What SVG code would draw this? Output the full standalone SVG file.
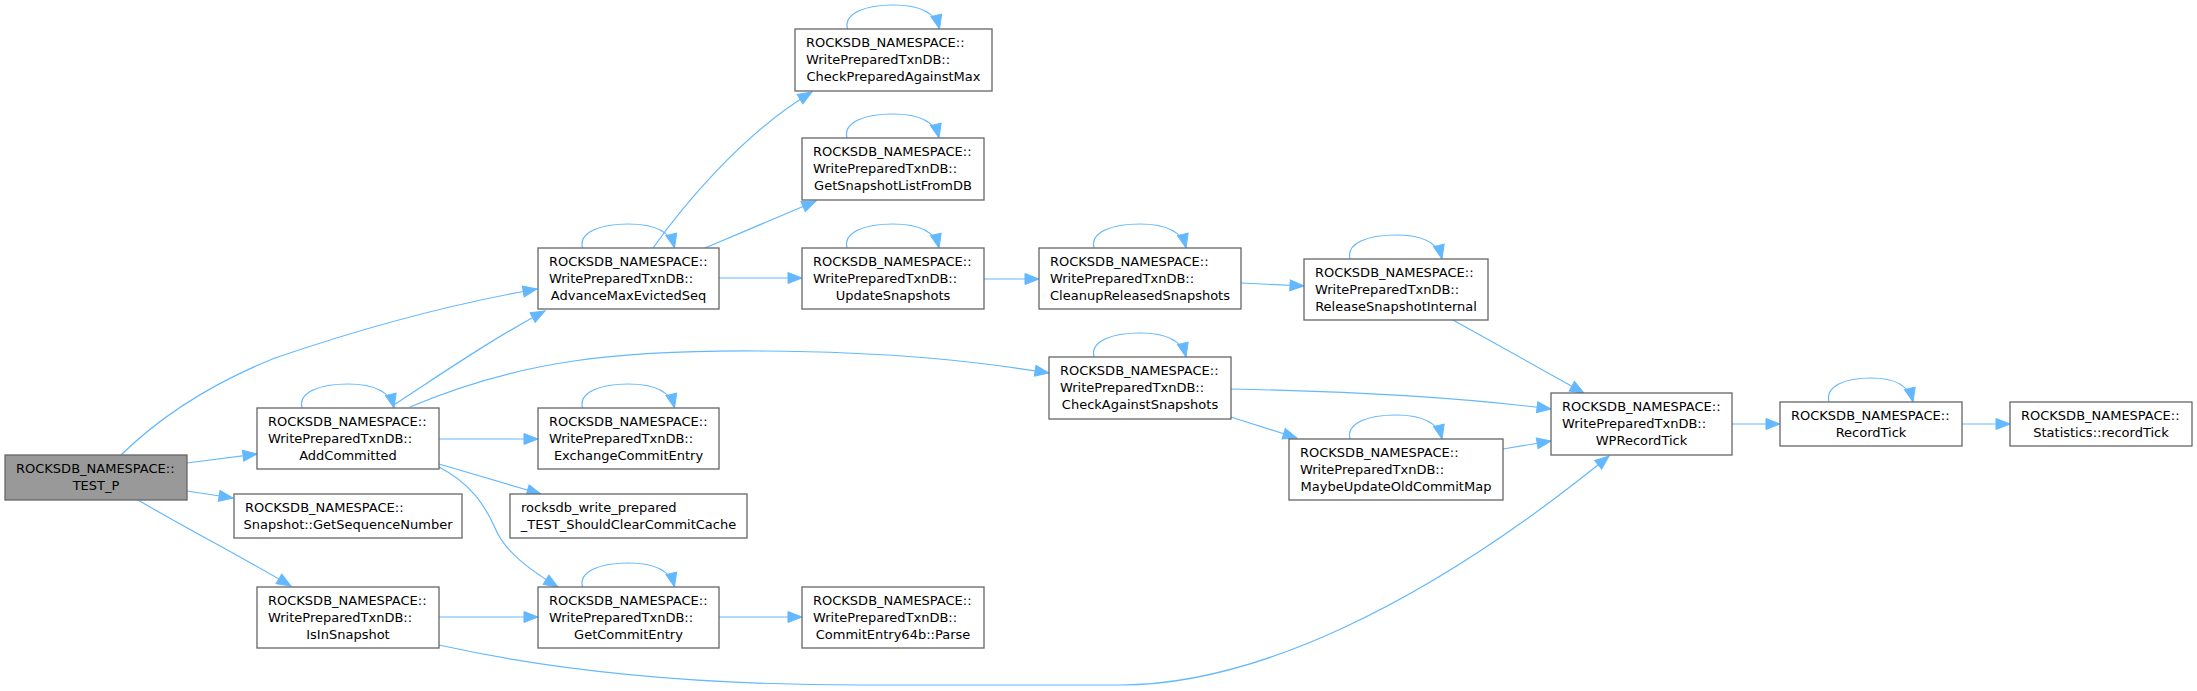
<svg xmlns="http://www.w3.org/2000/svg" width="2197" height="691" viewBox="0 0 2197 691">
<style>
.n rect{fill:#ffffff;stroke:#666666;stroke-width:1.3}
.n.root rect{fill:#999999}
.n text{font-family:"DejaVu Sans","Liberation Sans",sans-serif;font-size:13px;fill:#000000}
.n text.c{text-anchor:middle}
.e path{fill:none;stroke:#63b8ff;stroke-width:1.2;marker-end:url(#ah)}
</style>
<defs>
<marker id="ah" markerUnits="userSpaceOnUse" markerWidth="16" markerHeight="13" refX="14" refY="5.5" orient="auto" overflow="visible">
<path d="M0,0 L14,5.5 L0,11 z" fill="#63b8ff" stroke="#63b8ff" stroke-width="1"/>
</marker>
</defs>
<rect width="2197" height="691" fill="#ffffff"/>
<g id="connectors" class="e">
<path d="M121,455 C165,412 215,382 275,358 C345,334 440,306 537,289"/>
<path d="M187,463 L257,454"/>
<path d="M187,491 L233,498"/>
<path d="M138,500 C180,525 240,556 291,586"/>
<path d="M439,645 C560,672 700,685 860,685 L1120,685 C1250,685 1420,610 1609,456"/>
<path d="M392,406 C440,375 490,340 545,311"/>
<path d="M410,407 C520,360 620,350 760,351 C900,352 980,362 1049,373"/>
<path d="M439,439 L538,439"/>
<path d="M439,464 L541,494"/>
<path d="M439,467 C470,483 485,505 495,528 C505,552 530,570 558,587"/>
<path d="M439,617 L538,617"/>
<path d="M719,617 L802,617"/>
<path d="M653,248 C680,210 740,135 812,92"/>
<path d="M705,248 L816,201"/>
<path d="M719,278 L802,278"/>
<path d="M984,279 L1039,279"/>
<path d="M1241,283 L1304,286"/>
<path d="M1453,320 L1584,393"/>
<path d="M1231,389 C1330,391 1450,396 1551,409"/>
<path d="M1231,417 L1297,438"/>
<path d="M1503,449 L1551,441"/>
<path d="M1732,424 L1780,424"/>
<path d="M1962,424 L2010,424"/>
<path d="M582.5,248 C578.5,232 600.5,224 628.5,224 C654.5,224 670.5,231 674.5,248"/>
<path d="M302,408 C298,392 320,384 348,384 C374,384 390,391 394,408"/>
<path d="M847.5,29 C843.5,13 865.5,5 893.5,5 C919.5,5 935.5,12 939.5,29"/>
<path d="M847,138 C843,122 865,114 893,114 C919,114 935,121 939,138"/>
<path d="M847,248 C843,232 865,224 893,224 C919,224 935,231 939,248"/>
<path d="M1094,248 C1090,232 1112,224 1140,224 C1166,224 1182,231 1186,248"/>
<path d="M1350,259 C1346,243 1368,235 1396,235 C1422,235 1438,242 1442,259"/>
<path d="M1094,357 C1090,341 1112,333 1140,333 C1166,333 1182,340 1186,357"/>
<path d="M1350,439 C1346,423 1368,415 1396,415 C1422,415 1438,422 1442,439"/>
<path d="M582.5,408 C578.5,392 600.5,384 628.5,384 C654.5,384 670.5,391 674.5,408"/>
<path d="M582.5,587 C578.5,571 600.5,563 628.5,563 C654.5,563 670.5,570 674.5,587"/>
<path d="M1829,402 C1825,386 1845,378 1871,378 C1895,378 1909,385 1913,402"/>
</g>
<g id="test_p" class="n root"><rect x="5" y="455" width="182" height="45"/><text x="16" y="473.3">ROCKSDB_NAMESPACE::</text><text class="c" x="96" y="490.3">TEST_P</text></g>
<g id="add_committed" class="n"><rect x="257" y="408" width="182" height="61"/><text x="268" y="426.3">ROCKSDB_NAMESPACE::</text><text x="268" y="443.3">WritePreparedTxnDB::</text><text class="c" x="348" y="460.3">AddCommitted</text></g>
<g id="get_sequence_number" class="n"><rect x="234" y="494" width="228" height="44"/><text x="245" y="512.3">ROCKSDB_NAMESPACE::</text><text class="c" x="348" y="529.3">Snapshot::GetSequenceNumber</text></g>
<g id="is_in_snapshot" class="n"><rect x="257" y="587" width="182" height="61"/><text x="268" y="605.3">ROCKSDB_NAMESPACE::</text><text x="268" y="622.3">WritePreparedTxnDB::</text><text class="c" x="348" y="639.3">IsInSnapshot</text></g>
<g id="advance_max_evicted_seq" class="n"><rect x="538" y="248" width="181" height="61"/><text x="549" y="266.3">ROCKSDB_NAMESPACE::</text><text x="549" y="283.3">WritePreparedTxnDB::</text><text class="c" x="628.5" y="300.3">AdvanceMaxEvictedSeq</text></g>
<g id="exchange_commit_entry" class="n"><rect x="538" y="408" width="181" height="61"/><text x="549" y="426.3">ROCKSDB_NAMESPACE::</text><text x="549" y="443.3">WritePreparedTxnDB::</text><text class="c" x="628.5" y="460.3">ExchangeCommitEntry</text></g>
<g id="should_clear_commit_cache" class="n"><rect x="510" y="494" width="237" height="44"/><text x="521" y="512.3">rocksdb_write_prepared</text><text class="c" x="628.5" y="529.3">_TEST_ShouldClearCommitCache</text></g>
<g id="get_commit_entry" class="n"><rect x="538" y="587" width="181" height="61"/><text x="549" y="605.3">ROCKSDB_NAMESPACE::</text><text x="549" y="622.3">WritePreparedTxnDB::</text><text class="c" x="628.5" y="639.3">GetCommitEntry</text></g>
<g id="commit_entry_parse" class="n"><rect x="802" y="587" width="182" height="61"/><text x="813" y="605.3">ROCKSDB_NAMESPACE::</text><text x="813" y="622.3">WritePreparedTxnDB::</text><text class="c" x="893" y="639.3">CommitEntry64b::Parse</text></g>
<g id="check_prepared_against_max" class="n"><rect x="795" y="29" width="197" height="62"/><text x="806" y="47.3">ROCKSDB_NAMESPACE::</text><text x="806" y="64.3">WritePreparedTxnDB::</text><text class="c" x="893.5" y="81.3">CheckPreparedAgainstMax</text></g>
<g id="get_snapshot_list_from_db" class="n"><rect x="802" y="138" width="182" height="62"/><text x="813" y="156.3">ROCKSDB_NAMESPACE::</text><text x="813" y="173.3">WritePreparedTxnDB::</text><text class="c" x="893" y="190.3">GetSnapshotListFromDB</text></g>
<g id="update_snapshots" class="n"><rect x="802" y="248" width="182" height="61"/><text x="813" y="266.3">ROCKSDB_NAMESPACE::</text><text x="813" y="283.3">WritePreparedTxnDB::</text><text class="c" x="893" y="300.3">UpdateSnapshots</text></g>
<g id="cleanup_released_snapshots" class="n"><rect x="1039" y="248" width="202" height="61"/><text x="1050" y="266.3">ROCKSDB_NAMESPACE::</text><text x="1050" y="283.3">WritePreparedTxnDB::</text><text class="c" x="1140" y="300.3">CleanupReleasedSnapshots</text></g>
<g id="release_snapshot_internal" class="n"><rect x="1304" y="259" width="184" height="61"/><text x="1315" y="277.3">ROCKSDB_NAMESPACE::</text><text x="1315" y="294.3">WritePreparedTxnDB::</text><text class="c" x="1396" y="311.3">ReleaseSnapshotInternal</text></g>
<g id="check_against_snapshots" class="n"><rect x="1049" y="357" width="182" height="62"/><text x="1060" y="375.3">ROCKSDB_NAMESPACE::</text><text x="1060" y="392.3">WritePreparedTxnDB::</text><text class="c" x="1140" y="409.3">CheckAgainstSnapshots</text></g>
<g id="maybe_update_old_commit_map" class="n"><rect x="1289" y="439" width="214" height="61"/><text x="1300" y="457.3">ROCKSDB_NAMESPACE::</text><text x="1300" y="474.3">WritePreparedTxnDB::</text><text class="c" x="1396" y="491.3">MaybeUpdateOldCommitMap</text></g>
<g id="wp_record_tick" class="n"><rect x="1551" y="393" width="181" height="62"/><text x="1562" y="411.3">ROCKSDB_NAMESPACE::</text><text x="1562" y="428.3">WritePreparedTxnDB::</text><text class="c" x="1641.5" y="445.3">WPRecordTick</text></g>
<g id="record_tick" class="n"><rect x="1780" y="402" width="182" height="44"/><text x="1791" y="420.3">ROCKSDB_NAMESPACE::</text><text class="c" x="1871" y="437.3">RecordTick</text></g>
<g id="statistics_record_tick" class="n"><rect x="2010" y="402" width="182" height="44"/><text x="2021" y="420.3">ROCKSDB_NAMESPACE::</text><text class="c" x="2101" y="437.3">Statistics::recordTick</text></g>
</svg>
